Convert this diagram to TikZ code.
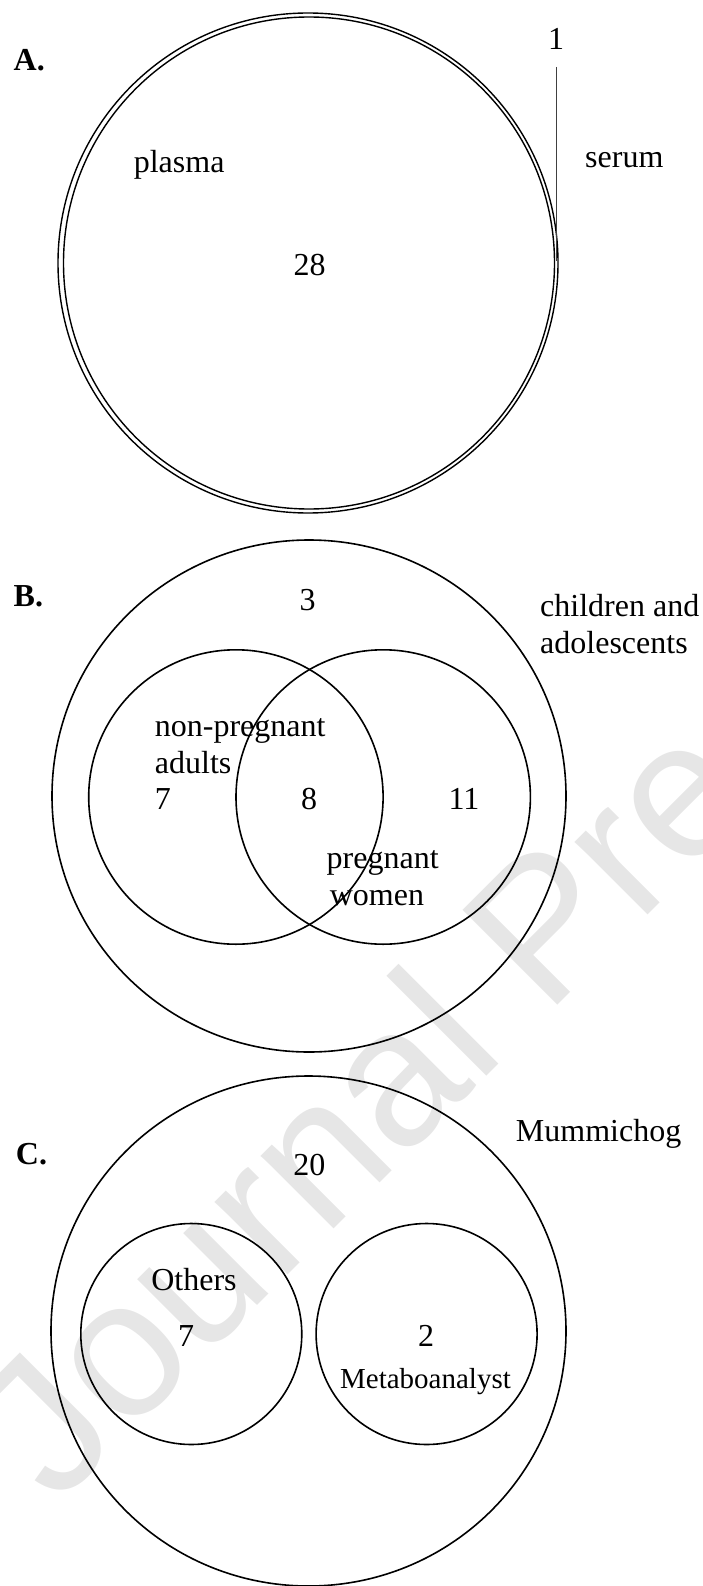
\documentclass[tikz,border=0pt]{standalone}
\usepackage{fontspec}
\setmainfont{Liberation Serif}
\newfontfamily\wmfont{Liberation Sans}
\begin{document}
\begin{tikzpicture}[x=1pt,y=-1pt,
  lbl/.style={inner sep=0pt,font=\fontsize{32}{36}\selectfont},
  smalllbl/.style={inner sep=0pt,font=\fontsize{29}{33}\selectfont},
  panel/.style={inner sep=0pt,font=\fontsize{32}{36}\selectfont\bfseries},
  ring/.style={draw=black,line width=1.6pt},
  thinring/.style={draw=black,line width=1.4pt}]
\useasboundingbox (0,0) rectangle (703,1586);
% watermark
\begin{scope}
\clip (0,0) rectangle (703,1586);
\node[inner sep=0pt,anchor=base west,rotate=45,text={rgb,255:red,230;green,230;blue,230},
  font=\wmfont\fontsize{195}{200}\selectfont] (wm) at (56,1507) {Journal Pre-proof};
\end{scope}
% ---------- Panel A ----------
\node[panel,anchor=base west] (pA) at (13.5,70.7) {A.};
\draw[thinring] (308,263) circle [radius=250];
\draw[thinring] (309,263) ellipse [x radius=245.5,y radius=246];
\node[lbl,anchor=base] (one) at (556,50) {1};
\coordinate (lineTop) at (556.5,67);
\coordinate (lineBot) at (556.5,261);
\draw[line width=0.9pt,black!75] (lineTop) -- (lineBot);
\node[lbl,anchor=base west] (serum) at (585,168) {serum};
\node[lbl,anchor=base west] (plasma) at (133.6,173) {plasma};
\node[lbl,anchor=base] (n28) at (309.5,276) {28};
% ---------- Panel B ----------
\node[panel,anchor=base west] (pB) at (13.5,606) {B.};
\draw[ring] (309,796) ellipse [x radius=257,y radius=256];
\draw[ring] (235.9,797) circle [radius=147.2];
\draw[ring] (383.2,797) circle [radius=147.2];
\node[lbl,anchor=base] (n3) at (307.6,610.7) {3};
\node[lbl,anchor=base west] (child) at (540,616.7) {children and};
\node[lbl,anchor=base west] (adol) at (540,653) {adolescents};
\node[lbl,anchor=base west] (nonpreg) at (154.7,736.7) {non-pregnant};
\node[lbl,anchor=base west] (adults) at (154.7,773) {adults};
\node[lbl,anchor=base west] (n7b) at (154.7,809) {7};
\node[lbl,anchor=base] (n8) at (309,809) {8};
\node[lbl,anchor=base] (n11) at (464,809) {11};
\node[lbl,anchor=base west] (preg) at (326.5,868) {pregnant};
\node[lbl,anchor=base west] (women) at (329.6,905) {women};
% ---------- Panel C ----------
\node[panel,anchor=base west] (pC) at (15.7,1164.7) {C.};
\draw[ring] (308.5,1331) ellipse [x radius=257.5,y radius=255];
\draw[ring] (191.3,1334) circle [radius=110.5];
\draw[ring] (426.6,1334) circle [radius=110.5];
\node[lbl,anchor=base west] (mumm) at (515.7,1141) {Mummichog};
\node[lbl,anchor=base] (n20) at (309.4,1175) {20};
\node[lbl,anchor=base] (others) at (194,1290.9) {Others};
\node[lbl,anchor=base] (n7c) at (186,1346.6) {7};
\node[lbl,anchor=base] (n2) at (426,1346.6) {2};
\node[smalllbl,anchor=base] (meta) at (425.5,1388.4) {Metaboanalyst};
\end{tikzpicture}
\end{document}
